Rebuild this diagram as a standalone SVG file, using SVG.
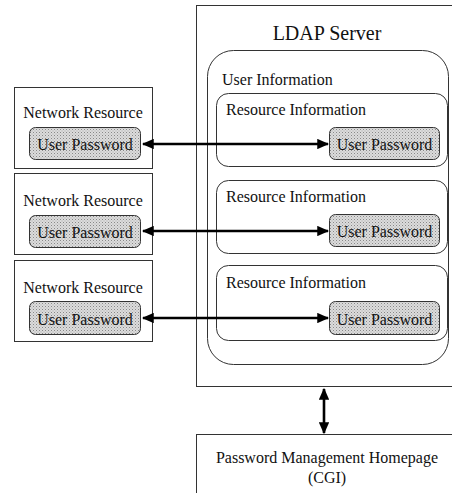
<svg xmlns="http://www.w3.org/2000/svg" width="452" height="493" viewBox="0 0 452 493">
<style>
text{font-family:"Liberation Serif","Times New Roman",serif;fill:#111;font-size:16px}
text.title{font-size:20px}
.box{fill:#fff;stroke:#333;stroke-width:1}
.pw{fill:url(#dots);stroke:#333;stroke-width:1}
.con{stroke:#000;stroke-width:2.6;fill:none}
</style>
<defs>
<pattern id="dots" width="3" height="3" patternUnits="userSpaceOnUse">
<rect width="3" height="3" fill="#dcdcdc"/>
<rect x="0" y="0" width="1" height="1" fill="#888"/>
<rect x="1.5" y="1.5" width="1" height="1" fill="#a8a8a8"/>
</pattern>
<marker id="ah" viewBox="0 0 10 10" refX="9" refY="5" markerWidth="4.6" markerHeight="4" orient="auto-start-reverse" markerUnits="strokeWidth" preserveAspectRatio="none">
<path d="M0,0 L10,5 L0,10 z" fill="#000"/>
</marker>
</defs>
<rect width="452" height="493" fill="#fff"/>

<g id="ldap-server">
<rect class="box" x="196.5" y="5.5" width="270" height="381"/>
<text class="title" x="327" y="40" text-anchor="middle">LDAP Server</text>
</g>

<g id="user-information">
<rect class="box" x="207.5" y="50.5" width="241" height="314" rx="26" ry="26"/>
<text x="222" y="85">User Information</text>
</g>

<g id="resource-info-1">
<rect class="box" x="216.5" y="93.5" width="231" height="73" rx="12" ry="12"/>
<text x="226" y="115">Resource Information</text>
<rect class="pw" x="329.5" y="127.5" width="110" height="32" rx="6" ry="6"/>
<text x="384.5" y="150" text-anchor="middle">User Password</text>
</g>
<g id="resource-info-2">
<rect class="box" x="216.5" y="180.5" width="231" height="73" rx="12" ry="12"/>
<text x="226" y="202">Resource Information</text>
<rect class="pw" x="329.5" y="214.5" width="110" height="32" rx="6" ry="6"/>
<text x="384.5" y="237" text-anchor="middle">User Password</text>
</g>
<g id="resource-info-3">
<rect class="box" x="216.5" y="265.5" width="231" height="75" rx="12" ry="12"/>
<text x="226" y="288">Resource Information</text>
<rect class="pw" x="329.5" y="301.5" width="110" height="33" rx="6" ry="6"/>
<text x="384.5" y="325" text-anchor="middle">User Password</text>
</g>

<g id="network-resource-1">
<rect class="box" x="14.5" y="87.5" width="138" height="81"/>
<text x="83" y="118" text-anchor="middle">Network Resource</text>
<rect class="pw" x="29.5" y="127.5" width="111" height="32" rx="6" ry="6"/>
<text x="85" y="150" text-anchor="middle">User Password</text>
</g>
<g id="network-resource-2">
<rect class="box" x="14.5" y="173.5" width="138" height="81"/>
<text x="83" y="206" text-anchor="middle">Network Resource</text>
<rect class="pw" x="29.5" y="215.5" width="111" height="32" rx="6" ry="6"/>
<text x="85" y="238" text-anchor="middle">User Password</text>
</g>
<g id="network-resource-3">
<rect class="box" x="14.5" y="260.5" width="138" height="81"/>
<text x="83" y="293" text-anchor="middle">Network Resource</text>
<rect class="pw" x="29.5" y="301.5" width="111" height="33" rx="6" ry="6"/>
<text x="85" y="325" text-anchor="middle">User Password</text>
</g>

<g id="password-homepage">
<rect class="box" x="196.5" y="434.5" width="270" height="70"/>
<text x="327" y="463" text-anchor="middle">Password Management Homepage</text>
<text x="327" y="483" text-anchor="middle">(CGI)</text>
</g>

<g id="connectors">
<line class="con" x1="143" y1="144" x2="328" y2="144" marker-start="url(#ah)" marker-end="url(#ah)"/>
<line class="con" x1="143" y1="231" x2="328" y2="231" marker-start="url(#ah)" marker-end="url(#ah)"/>
<line class="con" x1="143" y1="318" x2="328" y2="318" marker-start="url(#ah)" marker-end="url(#ah)"/>
<line class="con" x1="324" y1="389" x2="324" y2="433" marker-start="url(#ah)" marker-end="url(#ah)"/>
</g>
</svg>
